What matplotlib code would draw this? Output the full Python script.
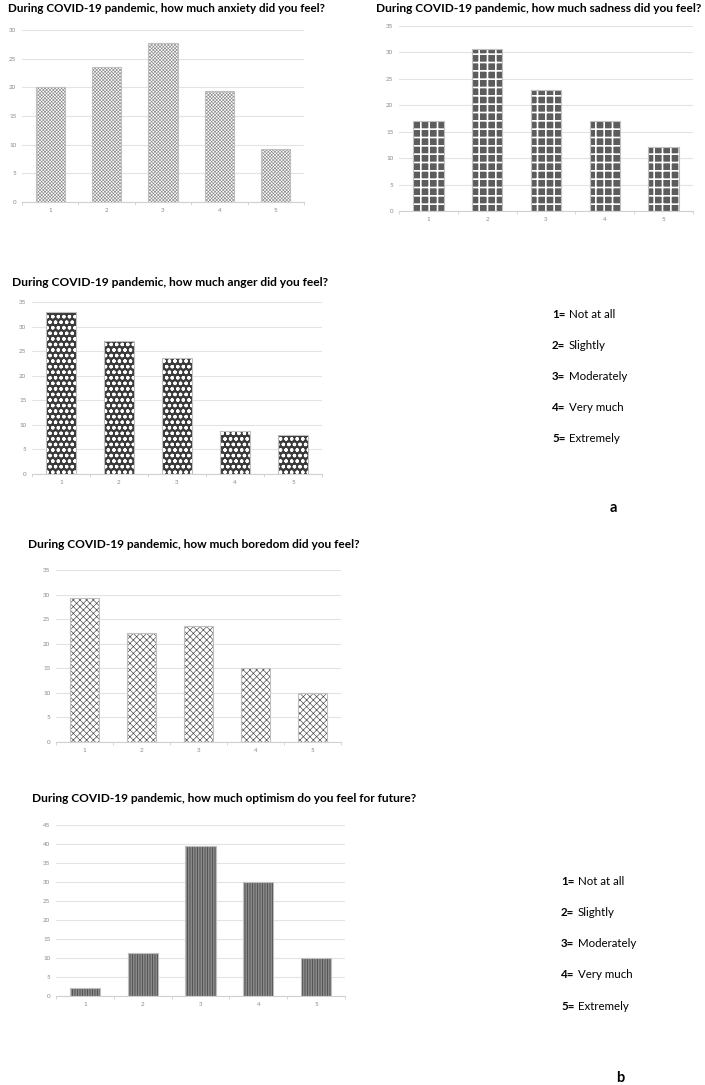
import numpy as np
import matplotlib.pyplot as plt

W, H = 705, 1085

cats = [1, 2, 3, 4, 5]
anxiety = [20.0, 23.6, 27.8, 19.4, 9.3]
sadness = [17.1, 30.6, 22.9, 17.1, 12.1]
anger = [32.9, 27.1, 23.6, 8.7, 7.9]
boredom = [29.3, 22.1, 23.6, 15.0, 10.0]
optimism = [2.1, 11.4, 39.4, 30.0, 10.0]

titles = ["During COVID-19 pandemic, how much anxiety did you feel?",
          "During COVID-19 pandemic, how much sadness did you feel?",
          "During COVID-19 pandemic, how much anger did you feel?",
          "During COVID-19 pandemic, how much boredom did you feel?",
          "During COVID-19 pandemic, how much optimism do you feel for future?"]
scale_nums = ["1=", "2=", "3=", "4=", "5="]
scale_words = ["Not at all", "Slightly", "Moderately", "Very much", "Extremely"]

plt.rcParams['font.family'] = ['Lato', 'DejaVu Sans']

fig = plt.figure(figsize=(W/100, H/100), dpi=100)


def box(x0, y0, x1, y1):
    # pixel box -> figure fraction
    return [x0/W, 1 - y1/H, (x1-x0)/W, (y1-y0)/H]


def panel(rect, vals, ymax, face, hatch, hcolor, hlw):
    ax = fig.add_axes(rect)
    plt.rcParams['hatch.linewidth'] = hlw
    bars = ax.bar(cats, vals, width=0.52, color=face, edgecolor=hcolor, hatch=hatch, linewidth=0, zorder=2)
    for b in bars:
        if hasattr(b, 'set_hatch_linewidth'):
            b.set_hatch_linewidth(hlw)
    ax.bar(cats, vals, width=0.52, fill=False, edgecolor='#bfbfbf', linewidth=0.8, zorder=3)
    ax.set_xlim(0.5, 5.5)
    ax.set_ylim(0, ymax)
    ax.set_yticks(np.arange(0, ymax+1, 5))
    ax.set_xticks(cats)
    ax.set_xticks(np.arange(0.5, 6, 1), minor=True)
    ax.grid(axis='y', color='#e3e3e3', linewidth=0.8, zorder=0)
    for s in ['top', 'right', 'left']:
        ax.spines[s].set_visible(False)
    ax.spines['bottom'].set_color('#d0d0d0')
    ax.spines['bottom'].set_linewidth(0.8)
    ax.tick_params(axis='both', labelsize=4.5, labelcolor='#8a8a8a', length=0, pad=4)
    ax.tick_params(axis='x', which='minor', length=2.5, color='#d0d0d0', width=0.6)
    return ax


panel(box(22, 30, 304, 202), anxiety, 30, 'white', 'xxxxxxxxxx', '#8c8c8c', 0.45)
panel(box(399, 26, 693, 211), sadness, 35, '#5c5c5c', '++', 'white', 1.2)
panel(box(32, 302, 322, 474), anger, 35, '#3a3a3a', 'ooo', 'white', 0.9)
panel(box(56, 570, 341, 742), boredom, 35, 'white', 'xxxxx', '#444444', 0.45)
panel(box(56, 825, 345, 996), optimism, 45, '#d4d4d4', '||||||||||', '#555555', 0.9)

# title spans (x0, x1, y) in pixels
title_pos = [(8, 325, 8), (376, 703, 8), (12, 328, 282), (28, 360, 545), (32, 418, 798)]
renderer = fig.canvas.get_renderer()
for (x0, x1, y), t in zip(title_pos, titles):
    txt = fig.text(x0/W, 1 - y/H, t, fontsize=9, fontweight='bold', ha='left', va='center')
    w = txt.get_window_extent(renderer).width
    txt.set_fontsize(9 * (x1 - x0) / w)


def scale_legend(x, ys, letter_xy):
    for y, n, w in zip(ys, scale_nums, scale_words):
        fig.text(x/W, 1 - (y + 4)/H, n, fontsize=8.3, fontweight='bold', ha='left', va='baseline')
        fig.text((x + 17)/W, 1 - (y + 4)/H, w, fontsize=8.3, ha='left', va='baseline')
    fig.text(letter_xy[0]/W, 1 - letter_xy[1]/H, letter_xy[2], fontsize=10.5, fontweight='bold',
             ha='center', va='center')


scale_legend(552, [314, 345, 376, 407, 438], (613, 508, 'a'))
scale_legend(561, [881, 912, 943, 974, 1006], (620, 1078, 'b'))

fig.savefig('out.png', dpi=100)
